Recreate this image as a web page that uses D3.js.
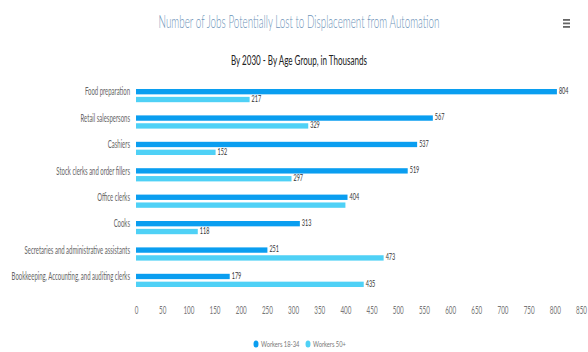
<!DOCTYPE html>
<html>
<head>
<meta charset="utf-8">
<script src="https://cdn.jsdelivr.net/npm/d3@7"></script>
<style>
  html, body { margin: 0; padding: 0; background: #fff; }
  svg { display: block; font-family: Lato, "Open Sans", sans-serif; }
</style>
</head>
<body>
<svg id="chart" width="588" height="352"></svg>
<script>
// Jobs potentially lost to automation by 2030, thousands
const categories = [
  "Food preparation",
  "Retail salespersons",
  "Cashiers",
  "Stock clerks and order fillers",
  "Office clerks",
  "Cooks",
  "Secretaries and administrative assistants",
  "Bookkeeping, Accounting, and auditing clerks"
];
const workers18to34 = [804, 567, 537, 519, 404, 313, 251, 179];
const workers50plus = [217, 329, 152, 297, 400, 118, 473, 435];
const seriesNames = ["Workers 18-34", "Workers 50+"];
const seriesColors = ["#0a9ef0", "#4fd1f6"];
const xTicks = d3.range(0, 851, 50);
// values whose label is suppressed because it collides with another label
const hiddenLabels = { "Workers 50+": ["Office clerks"] };

const svg = d3.select("#chart");
const margin = { left: 136, right: 7, top: 82, bottom: 58 };
const W = 588, H = 352;

// Narrow the glyphs horizontally around each text's own anchor point
function condense(sel, k) {
  sel.each(function () {
    const t = d3.select(this);
    const xv = +(t.attr("x") || 0);
    const yv = +(t.attr("y") || 0);
    const prev = t.attr("transform") || "";
    t.attr("x", 0).attr("y", 0)
     .attr("transform", `${prev} translate(${xv},${yv}) scale(${k},1)`);
  });
}

const x = d3.scaleLinear().domain([0, 850]).range([margin.left, W - margin.right]);
const y = d3.scaleBand().domain(categories).range([margin.top, H - margin.bottom])
  .paddingInner(0.5).paddingOuter(0.265);
const ySub = d3.scaleBand().domain(seriesNames).range([0, y.bandwidth()]).paddingInner(0.32);

// Titles
svg.append("text").attr("x", 299).attr("y", 28).attr("text-anchor", "middle")
  .attr("fill", "#6c93b8").attr("font-size", 17).attr("font-weight", 300)
  .text("Number of Jobs Potentially Lost to Displacement from Automation")
  .call(condense, 0.58);
svg.append("text").attr("x", 299).attr("y", 65).attr("text-anchor", "middle")
  .attr("fill", "#222").attr("font-size", 13)
  .text("By 2030 - By Age Group, in Thousands")
  .call(condense, 0.62);

// Menu icon
const menu = svg.append("g").attr("transform", "translate(563,19)");
[0, 3.5, 7].forEach(d => menu.append("rect").attr("x", 0).attr("y", d).attr("width", 7).attr("height", 1.8).attr("fill", "#666"));

// Bars
const data = categories.map((c, i) => ({ cat: c, vals: [workers18to34[i], workers50plus[i]] }));
const groups = svg.append("g").selectAll("g").data(data).join("g")
  .attr("transform", d => `translate(0,${y(d.cat)})`);

groups.selectAll("rect").data(d => d.vals.map((v, j) => ({ cat: d.cat, v, s: seriesNames[j], j })))
  .join("rect")
  .attr("x", x(0))
  .attr("y", d => ySub(d.s))
  .attr("width", d => x(d.v) - x(0))
  .attr("height", ySub.bandwidth())
  .attr("fill", d => seriesColors[d.j]);

groups.selectAll("text.val")
  .data(d => d.vals.map((v, j) => ({ cat: d.cat, v, s: seriesNames[j], j }))
    .filter(e => !(hiddenLabels[e.s] || []).includes(e.cat)))
  .join("text").attr("class", "val")
  .attr("x", d => x(d.v) + 2)
  .attr("y", d => ySub(d.s) + ySub.bandwidth() / 2 - 1)
  .attr("dy", "0.35em")
  .attr("font-size", 9.5).attr("fill", "#333")
  .text(d => d.v)
  .call(condense, 0.58);

// Category axis
const yAxis = svg.append("g").attr("transform", `translate(${margin.left - 6},0)`)
  .call(d3.axisLeft(y).tickSize(0).tickPadding(0));
yAxis.select(".domain").remove();
yAxis.selectAll("text").attr("font-size", 10.5).attr("fill", "#666")
  .attr("font-family", "Lato, sans-serif")
  .attr("y", -ySub.bandwidth() / 2 - 1)
  .call(condense, 0.57);

// Value axis
const xAxis = svg.append("g").attr("transform", `translate(0,${H - margin.bottom})`)
  .call(d3.axisBottom(x).tickValues(xTicks).tickSize(0).tickPadding(13));
xAxis.select(".domain").remove();
xAxis.selectAll("text").attr("font-size", 10.5).attr("fill", "#777")
  .attr("font-family", "Lato, sans-serif")
  .call(condense, 0.6);

// Legend
const legend = svg.append("g").attr("transform", "translate(256,344)");
const items = [{ n: seriesNames[0], c: seriesColors[0], x: 0 }, { n: seriesNames[1], c: seriesColors[1], x: 52 }];
const li = legend.selectAll("g").data(items).join("g").attr("transform", d => `translate(${d.x},0)`);
li.append("ellipse").attr("cx", 0).attr("cy", 0).attr("rx", 2.5).attr("ry", 3.5).attr("fill", d => d.c);
li.append("text").attr("x", 5).attr("dy", "0.35em").attr("font-size", 8.5).attr("fill", "#777")
  .text(d => d.n).call(condense, 0.68);
</script>
</body>
</html>
